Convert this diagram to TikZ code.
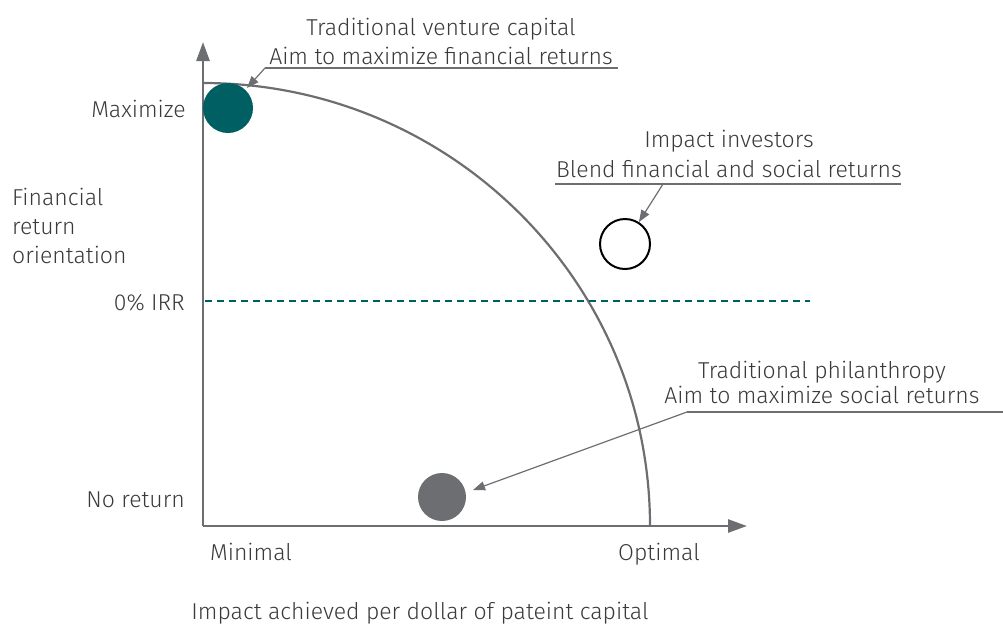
\documentclass[tikz,border=0pt]{standalone}
\usepackage{fontspec}
\setmainfont{Fira Sans}[UprightFont={* Light}]
\usepackage{xcolor}
\usetikzlibrary{arrows.meta,positioning}

\definecolor{axisgray}{HTML}{6D6E71}
\definecolor{tealdark}{HTML}{005F63}
\definecolor{textgray}{HTML}{3A3A3A}

\begin{document}
\begin{tikzpicture}[x=1pt, y=-1pt,
  lbl/.style={text=textgray, font=\fontsize{23}{29}\selectfont, inner sep=0pt},
  axis/.style={draw=axisgray, line width=2.6pt, -{Triangle[length=19pt,width=13pt]}},
  lead/.style={draw=axisgray, line width=1.2pt, -{Triangle[length=12pt,width=9pt]}},
  uline/.style={draw=axisgray, line width=1.3pt},
  dot/.style={circle, minimum size=50pt, inner sep=0pt}
]
\useasboundingbox (0,0) rectangle (1003,625);

% axes
\coordinate (o) at (203,526);
\coordinate (ytop) at (203,42);
\coordinate (xend) at (747,526);
\draw[axis] (o) -- (ytop);
\draw[axis] (o) -- (xend);

% frontier and zero line
\draw[axisgray, line width=2.2pt] (203,83) arc[start angle=90, end angle=0, x radius=447pt, y radius=443pt];
\draw[tealdark, line width=2pt, dash pattern=on 7pt off 5pt] (205,301) -- (810,301);

% investor types
\node[dot, fill=tealdark] (vc) at (228,108) {};
\node[dot, draw=black, line width=2pt, fill=white, minimum size=50pt] (ii) at (625,244) {};
\node[dot, fill=axisgray, minimum size=48pt] (tp) at (442,497) {};

% y labels
\node[lbl, anchor=base east] (maxlbl) at (186,117) {Maximize};
\node[lbl, anchor=base east] (irrlbl) at (185,310) {0\% IRR};
\node[lbl, anchor=base east] (nolbl) at (185,507) {No return};
\node[lbl, anchor=base west, align=left] (ylbl) at (12,263) {Financial\\return\\orientation};

% x labels
\node[lbl, anchor=base] (minlbl) at (251,560) {Minimal};
\node[lbl, anchor=base] (optlbl) at (659,560) {Optimal};
\node[lbl, anchor=base] (xlbl) at (420,619) {Impact achieved per dollar of pateint capital};

% callouts
\node[lbl, anchor=base] (vc1) at (441,35) {Traditional venture capital};
\node[lbl, anchor=base] (vc2) at (441,64) {Aim to maximize financial returns};
\coordinate (vcl) at (265,68);
\coordinate (vcr) at (618,68);
\draw[uline] (vcl) -- (vcr);
\draw[lead] (vcl) -- (247,88);

\node[lbl, anchor=base] (ii1) at (729,147) {Impact investors};
\node[lbl, anchor=base] (ii2) at (729,177) {Blend financial and social returns};
\coordinate (iil) at (555,184);
\coordinate (iir) at (901,184);
\coordinate (iia) at (663,184);
\draw[uline] (iil) -- (iir);
\draw[lead] (iia) -- (ii);

\node[lbl, anchor=base] (tp1) at (822,378) {Traditional philanthropy};
\node[lbl, anchor=base] (tp2) at (822,403) {Aim to maximize social returns};
\coordinate (tpl) at (687,412);
\coordinate (tpr) at (1003,412);
\draw[uline] (tpl) -- (tpr);
\draw[lead] (tpl) -- (473,490);
\end{tikzpicture}
\end{document}
